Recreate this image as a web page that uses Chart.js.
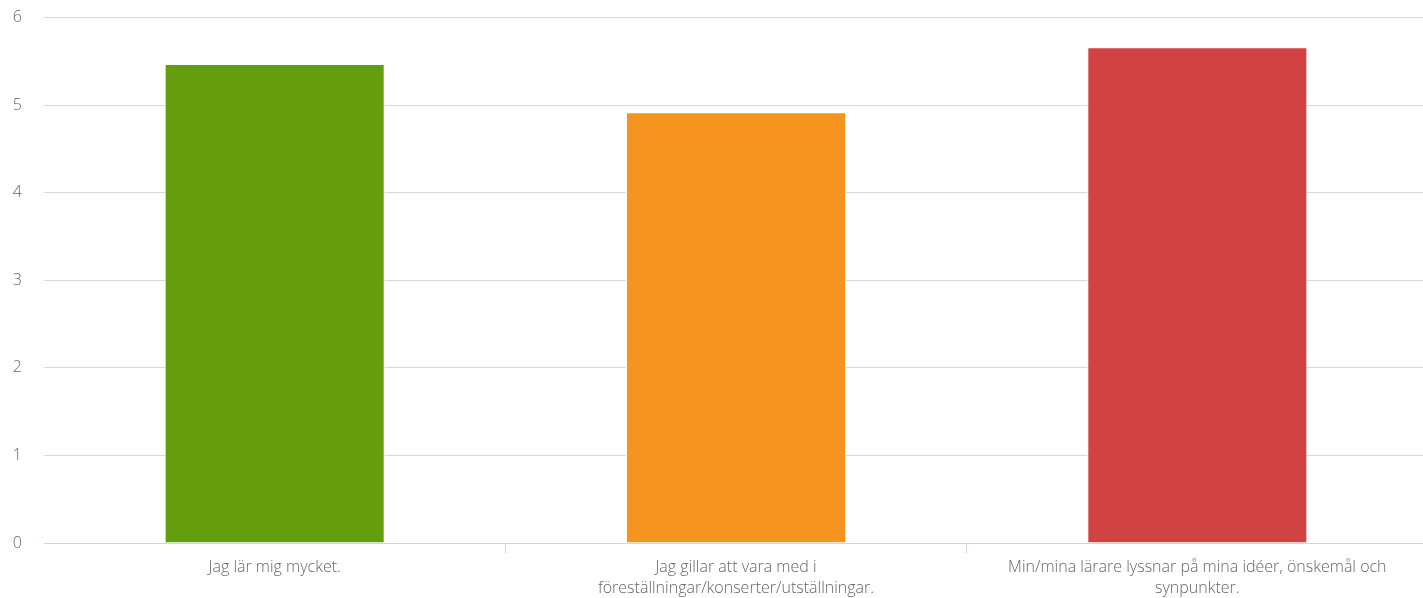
<!DOCTYPE html>
<html>
<head>
<meta charset="utf-8">
<script src="https://cdn.jsdelivr.net/npm/chart.js@4/dist/chart.umd.min.js"></script>
<style>
  html, body { margin: 0; padding: 0; background: #fff; overflow: hidden; }
  #wrap { position: absolute; left: 0; top: -14px; width: 1428px; height: 612px; }
</style>
</head>
<body>
<div id="wrap"><canvas id="c"></canvas></div>
<script>
const categories = [
  ["Jag lär mig mycket."],
  ["Jag gillar att vara med i", "föreställningar/konserter/utställningar."],
  ["Min/mina lärare lyssnar på mina idéer, önskemål och", "synpunkter."]
];
const values = [5.47, 4.92, 5.66];
const barColors = ["#649e0c", "#f59520", "#d14343"];
const yTicks = [0, 1, 2, 3, 4, 5, 6];

const font = { family: "'Open Sans', sans-serif", size: 16, weight: 300, lineHeight: 1.3 };

new Chart(document.getElementById('c'), {
  type: 'bar',
  data: {
    labels: categories,
    datasets: [{
      data: values,
      backgroundColor: barColors,
      borderColor: '#ffffff',
      borderWidth: 1,
      categoryPercentage: 1,
      barPercentage: 0.477
    }]
  },
  options: {
    responsive: true,
    maintainAspectRatio: false,
    animation: false,
    layout: { padding: { top: 0, left: 0, right: 0, bottom: 0 } },
    plugins: { legend: { display: false }, tooltip: { enabled: false } },
    scales: {
      x: {
        grid: {
          offset: true,
          drawOnChartArea: false,
          drawTicks: true,
          tickLength: 10,
          color: (ctx) => (ctx.type === 'tick' && ctx.index > 0) ? '#ccd6eb' : 'rgba(0,0,0,0)'
        },
        border: { display: true, color: '#ccd6eb', width: 1 },
        ticks: { color: '#666666', font: font, padding: 4, maxRotation: 0, autoSkip: false },
        afterFit: (s) => { s.height = 55; }
      },
      y: {
        min: 0,
        max: 6,
        afterBuildTicks: (s) => { s.ticks = yTicks.map(v => ({ value: v })); },
        grid: { color: '#d8d8d8', drawTicks: false },
        border: { display: false },
        ticks: { color: '#666666', font: { family: "'Open Sans', sans-serif", size: 16, weight: 300 }, padding: 22 },
        afterFit: (s) => { s.width = 44; }
      }
    }
  }
});
</script>
</body>
</html>
